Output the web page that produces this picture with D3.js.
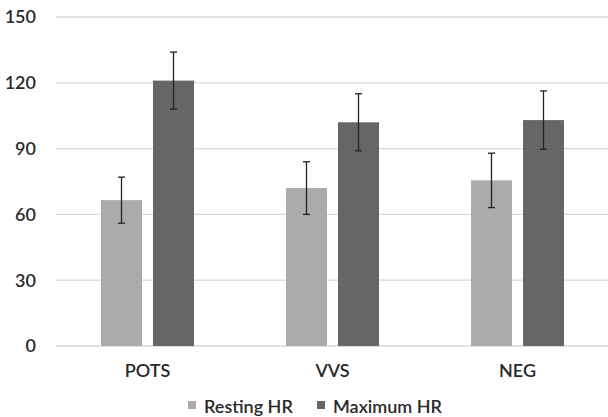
<!DOCTYPE html>
<html>
<head>
<meta charset="utf-8">
<title>HR chart</title>
<script src="https://cdn.jsdelivr.net/npm/d3@7"></script>
<style>
  body { margin: 0; background: #fff; }
  text { font-family: Lato, "Open Sans", sans-serif; fill: #2a2a2a; font-weight: 600; }
</style>
</head>
<body>
<script>
// data
var groups = ["POTS", "VVS", "NEG"];
var seriesNames = ["Resting HR", "Maximum HR"];
var restingHR = [66.5, 72, 75.5];
var restingErr = [10.5, 12, 12.4];
var maximumHR = [121, 102, 103];
var maximumErr = [13, 13, 13.3];
var yTicks = [0, 30, 60, 90, 120, 150];
var colors = ["#ababab", "#666666"];

var width = 608, height = 417;

var svg = d3.select("body").append("svg")
    .attr("width", width)
    .attr("height", height);

var y = d3.scaleLinear().domain([0, 150]).range([346, 17]);

var x0 = d3.scaleBand().domain(groups).range([55, 610]);
var bw = x0.bandwidth();
var x1 = d3.scaleBand().domain(seriesNames)
    .range([(bw - 93) / 2, (bw + 93) / 2])
    .paddingInner(11 / 52);

// gridlines
svg.append("g").selectAll("line")
    .data(yTicks)
    .enter().append("line")
    .attr("x1", 56).attr("x2", 608)
    .attr("y1", function(d) { return y(d); })
    .attr("y2", function(d) { return y(d); })
    .attr("stroke", "#d9d9d9")
    .attr("stroke-width", 1.3);

// y tick labels
svg.append("g").selectAll("text")
    .data(yTicks)
    .enter().append("text")
    .attr("x", 36)
    .attr("y", function(d) { return y(d); })
    .attr("dy", "0.35em")
    .attr("text-anchor", "end")
    .style("font-size", "18px")
    .text(function(d) { return d; });

// rows for each group
var rows = groups.map(function(g, i) {
    return [
        {group: g, s: seriesNames[0], v: restingHR[i], e: restingErr[i], c: colors[0]},
        {group: g, s: seriesNames[1], v: maximumHR[i], e: maximumErr[i], c: colors[1]}
    ];
});

var gg = svg.append("g").selectAll("g")
    .data(rows)
    .enter().append("g")
    .attr("transform", function(d) { return "translate(" + x0(d[0].group) + ",0)"; });

gg.selectAll("rect")
    .data(function(d) { return d; })
    .enter().append("rect")
    .attr("x", function(d) { return x1(d.s); })
    .attr("width", x1.bandwidth())
    .attr("y", function(d) { return y(d.v); })
    .attr("height", function(d) { return y(0) - y(d.v); })
    .attr("fill", function(d) { return d.c; });

// error bars
var eb = gg.selectAll("g.err")
    .data(function(d) { return d; })
    .enter().append("g")
    .attr("class", "err")
    .attr("stroke", "#222")
    .attr("stroke-width", 1.3);

eb.append("line")
    .attr("x1", function(d) { return x1(d.s) + x1.bandwidth() / 2; })
    .attr("x2", function(d) { return x1(d.s) + x1.bandwidth() / 2; })
    .attr("y1", function(d) { return y(d.v + d.e); })
    .attr("y2", function(d) { return y(d.v - d.e); });

[1, -1].forEach(function(sign) {
    eb.append("line")
        .attr("x1", function(d) { return x1(d.s) + x1.bandwidth() / 2 - 3.5; })
        .attr("x2", function(d) { return x1(d.s) + x1.bandwidth() / 2 + 3.5; })
        .attr("y1", function(d) { return y(d.v + sign * d.e); })
        .attr("y2", function(d) { return y(d.v + sign * d.e); });
});

// category labels
svg.append("g").selectAll("text")
    .data(groups)
    .enter().append("text")
    .attr("x", function(d) { return x0(d) + bw / 2; })
    .attr("y", 377)
    .attr("text-anchor", "middle")
    .style("font-size", "18px")
    .text(function(d) { return d; });

// legend
var legX = [188, 317];
var leg = svg.append("g").selectAll("g")
    .data(seriesNames)
    .enter().append("g")
    .attr("transform", function(d, i) { return "translate(" + legX[i] + ",0)"; });

leg.append("rect")
    .attr("y", 401)
    .attr("width", 8).attr("height", 8)
    .attr("fill", function(d, i) { return colors[i]; });

leg.append("text")
    .attr("x", 16)
    .attr("y", 412.5)
    .style("font-size", "18px")
    .text(function(d) { return d; });
</script>
</body>
</html>
